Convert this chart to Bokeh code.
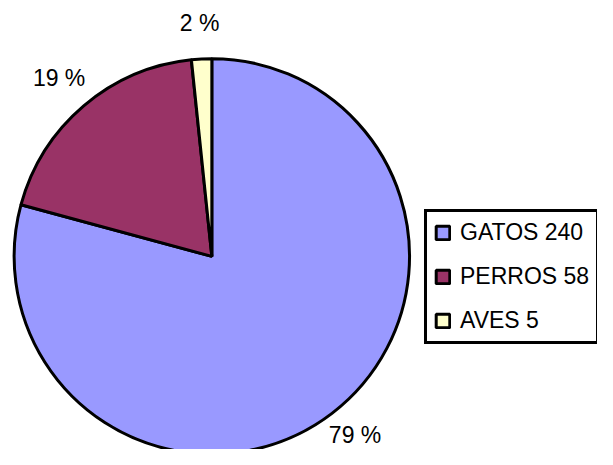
import numpy as np
from bokeh.plotting import figure
from bokeh.models import Range1d, Legend, LegendItem, ColumnDataSource
from bokeh.core.properties import value
from bokeh.embed import file_html
from bokeh.resources import INLINE

# ---- data ----
categories = ["GATOS", "PERROS", "AVES"]
counts = [240, 58, 5]
colors = ["#9999FF", "#993366", "#FFFFCC"]

# ---- derived ----
counts_arr = np.array(counts, dtype=float)
frac = counts_arr / counts_arr.sum()
cum = np.cumsum(frac)
start = np.pi / 2 - 2 * np.pi * (cum - frac)
end = np.pi / 2 - 2 * np.pi * cum
mid = (start + end) / 2
pct_labels = [f"{int(round(f * 100))} %" for f in frac]
legend_labels = [f"{c} {n}" for c, n in zip(categories, counts)]

W, H = 597, 449
cx, cy, R = 217, -265, 203
LR = 242

p = figure(width=W, height=H, output_backend="svg", toolbar_location=None,
           x_range=Range1d(0, 613), y_range=Range1d(-465, 0),
           x_axis_location=None, y_axis_location=None, min_border=0)
p.grid.visible = False
p.outline_line_color = None
p.background_fill_color = "white"
p.border_fill_color = "white"

src = ColumnDataSource(dict(start=start, end=end, color=colors, label=legend_labels))
wr = p.wedge(x=cx, y=cy, radius=R, start_angle="start", end_angle="end",
             direction="clock", fill_color="color", line_color="black",
             line_width=3, source=src)

lx = cx + LR * np.cos(mid)
ly = np.clip(cy + LR * np.sin(mid), -450, -14)  # keep labels inside the canvas
lsrc = ColumnDataSource(dict(x=lx, y=ly, t=pct_labels))
p.text(x="x", y="y", text="t", source=lsrc, text_align="center", text_baseline="middle",
       text_font=value("Liberation Sans"), text_font_size="23px", text_color="black")

items = [LegendItem(label=lab, renderers=[wr], index=i) for i, lab in enumerate(legend_labels)]
legend = Legend(items=items, location=(424, 105),
                label_text_font="Liberation Sans", label_text_font_size="23px",
                label_text_color="black",
                glyph_width=17, glyph_height=17, label_standoff=9,
                spacing=17, padding=7, margin=0,
                border_line_color="black", border_line_width=3, border_line_alpha=1.0,
                background_fill_color="white", background_fill_alpha=1.0)
p.add_layout(legend, "center")

open("out.html", "w").write(file_html(p, INLINE))
